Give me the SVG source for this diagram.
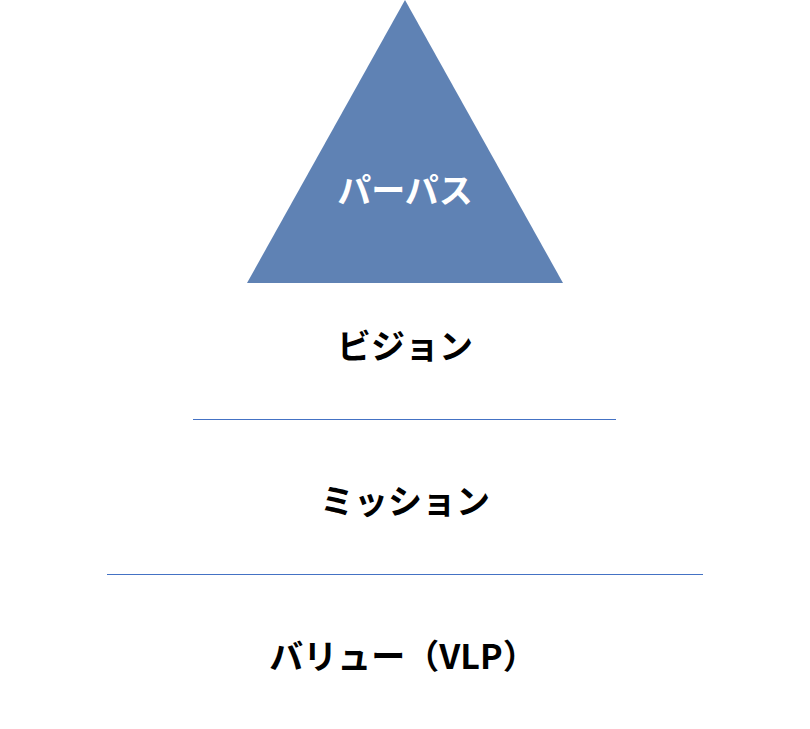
<svg xmlns="http://www.w3.org/2000/svg" width="810" height="729" viewBox="0 0 810 729">
<style>
.t{font-family:"Noto Sans CJK JP","Noto Sans",sans-serif;font-weight:bold;font-size:34px;text-anchor:middle;dominant-baseline:central}
.l{stroke:#4472c4;stroke-width:1}
</style>
<rect width="810" height="729" fill="#ffffff"/>
<g id="purpose">
<polygon points="405,0 563,283 247,283" fill="#5f82b4"/>
<text class="t" x="405" y="188" fill="#ffffff">パーパス</text>
</g>
<g id="vision"><text class="t" x="405" y="344" fill="#000000">ビジョン</text></g>
<g id="mission"><text class="t" x="405" y="499" fill="#000000">ミッション</text></g>
<g id="value"><text class="t" x="403" y="654" fill="#000000">バリュー（VLP）</text></g>
<g id="connectors">
<line class="l" x1="193" y1="419.5" x2="616" y2="419.5"/>
<line class="l" x1="107" y1="574.5" x2="703" y2="574.5"/>
</g>
</svg>
